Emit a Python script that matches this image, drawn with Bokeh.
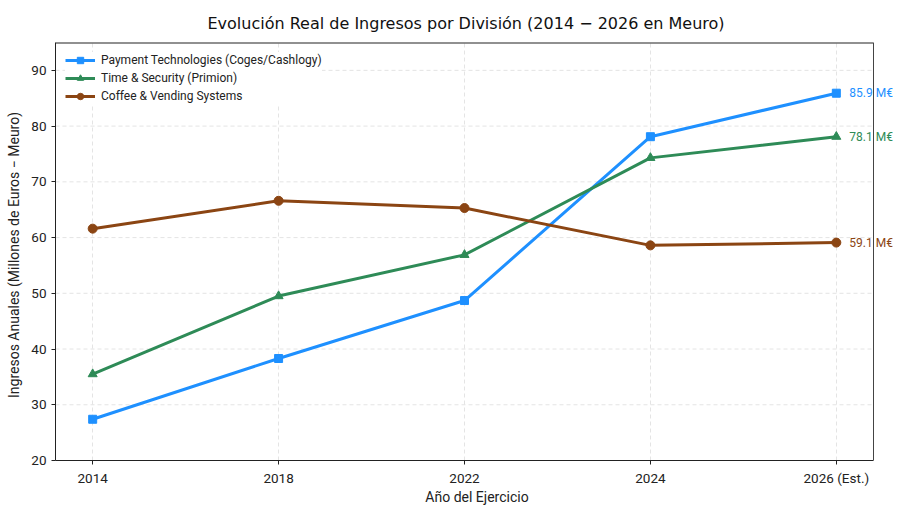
from bokeh.plotting import figure
from bokeh.models import Range1d, FixedTicker, Legend, LegendItem, ColumnDataSource
from bokeh.embed import file_html
from bokeh.resources import INLINE
from bokeh.core.properties import value

years = ["2014", "2018", "2022", "2024", "2026 (Est.)"]
payment = [27.4, 38.3, 48.7, 78.1, 85.9]
time_sec = [35.5, 49.5, 56.9, 74.3, 78.1]
coffee = [61.6, 66.6, 65.3, 58.6, 59.1]
names = ["Payment Technologies (Coges/Cashlogy)", "Time & Security (Primion)", "Coffee & Vending Systems"]
colors = ["#1E90FF", "#2E8B57", "#8B4513"]
yticks = [20, 30, 40, 50, 60, 70, 80, 90]

xs = list(range(len(years)))
FONT = "Roboto"
INK = "#222222"

# axes box (matplotlib-like) limits
X_LO, X_HI = -0.2, len(years) - 0.8
Y_LO, Y_HI = 20, 95
BOX_W = 818          # px width of the axes box
EXTRA = 25           # px of free space right of the box for end labels
frame_hi = X_HI + (X_HI - X_LO) * EXTRA / BOX_W

p = figure(width=900, height=512, output_backend="svg", toolbar_location=None,
           x_range=Range1d(X_LO, frame_hi), y_range=Range1d(Y_LO, Y_HI),
           min_border_left=55, min_border_right=27 - EXTRA, min_border_top=42, min_border_bottom=52)

p.title.text = "Evolución Real de Ingresos por División (2014  −  2026 en Meuro)"
p.title.align = "left"
p.title.offset = 152
p.title.text_font = "DejaVu Sans"
p.title.text_font_size = "16px"
p.title.text_font_style = "normal"
p.title.text_color = "#111111"
p.title.standoff = 20

p.outline_line_color = None

p.xaxis.ticker = FixedTicker(ticks=xs)
p.xaxis.major_label_overrides = {i: y for i, y in zip(xs, years)}
p.xaxis.bounds = (X_LO, X_HI)
p.yaxis.ticker = FixedTicker(ticks=yticks)
for ax in (p.xaxis, p.yaxis):
    ax.major_label_text_font = FONT
    ax.major_label_text_font_size = "13.5px"
    ax.major_label_text_color = INK
    ax.major_label_standoff = 5
    ax.axis_label_text_font = FONT
    ax.axis_label_text_font_size = "14px"
    ax.axis_label_text_font_style = "normal"
    ax.axis_label_text_color = INK
    ax.axis_label_standoff = 6
    ax.minor_tick_line_color = None
    ax.major_tick_in = 0
    ax.major_tick_out = 4
    ax.axis_line_color = INK
    ax.major_tick_line_color = INK
p.xaxis.axis_label_standoff = 0
p.xaxis.axis_label = "Año del Ejercicio"
p.yaxis.axis_label = "Ingresos Anuales (Millones de Euros  −  Meuro)"

GRID = "#dddddd"
p.xgrid.grid_line_color = GRID
p.xgrid.grid_line_dash = "4 3"
p.xgrid.grid_line_width = 0.8
p.ygrid.visible = False
# horizontal grid lines limited to the axes box
p.segment(x0=[X_LO] * len(yticks), x1=[X_HI] * len(yticks), y0=yticks, y1=yticks,
          line_color=GRID, line_dash="4 3", line_width=0.8, level="underlay")
# top spine (sits on the frame edge, so half of it is clipped) and right spine
p.segment(x0=[X_LO], y0=[Y_HI], x1=[X_HI], y1=[Y_HI], line_color=INK, line_width=2)
p.segment(x0=[X_HI], y0=[Y_LO], x1=[X_HI], y1=[Y_HI], line_color="#444444", line_width=1)

series = [payment, time_sec, coffee]
items = []
for vals, name, c, mk, sz in zip(series, names, colors, ["square", "triangle", "circle"], [8, 9, 9]):
    src = ColumnDataSource(dict(x=xs, y=vals))
    r1 = p.line("x", "y", source=src, line_color=c, line_width=3)
    r2 = p.scatter("x", "y", source=src, marker=mk, size=sz, color=c)
    items.append(LegendItem(label=name, renderers=[r1, r2]))
    p.text(x=[xs[-1]], y=[vals[-1]], text=[f"{vals[-1]:.1f} M€"], x_offset=13,
           text_baseline="middle", text_align="left", text_color=c,
           text_font=value(FONT), text_font_size="12px")

legend = Legend(items=items, location="top_left")
legend.label_text_font = FONT
legend.label_text_font_size = "12px"
legend.label_text_color = INK
legend.border_line_color = None
legend.background_fill_alpha = 1.0
legend.glyph_width = 30
legend.label_height = 16
legend.glyph_height = 16
legend.label_standoff = 6
legend.spacing = 2
legend.padding = 6
legend.margin = 10
p.add_layout(legend)

open("out.html", "w").write(file_html(p, INLINE))
